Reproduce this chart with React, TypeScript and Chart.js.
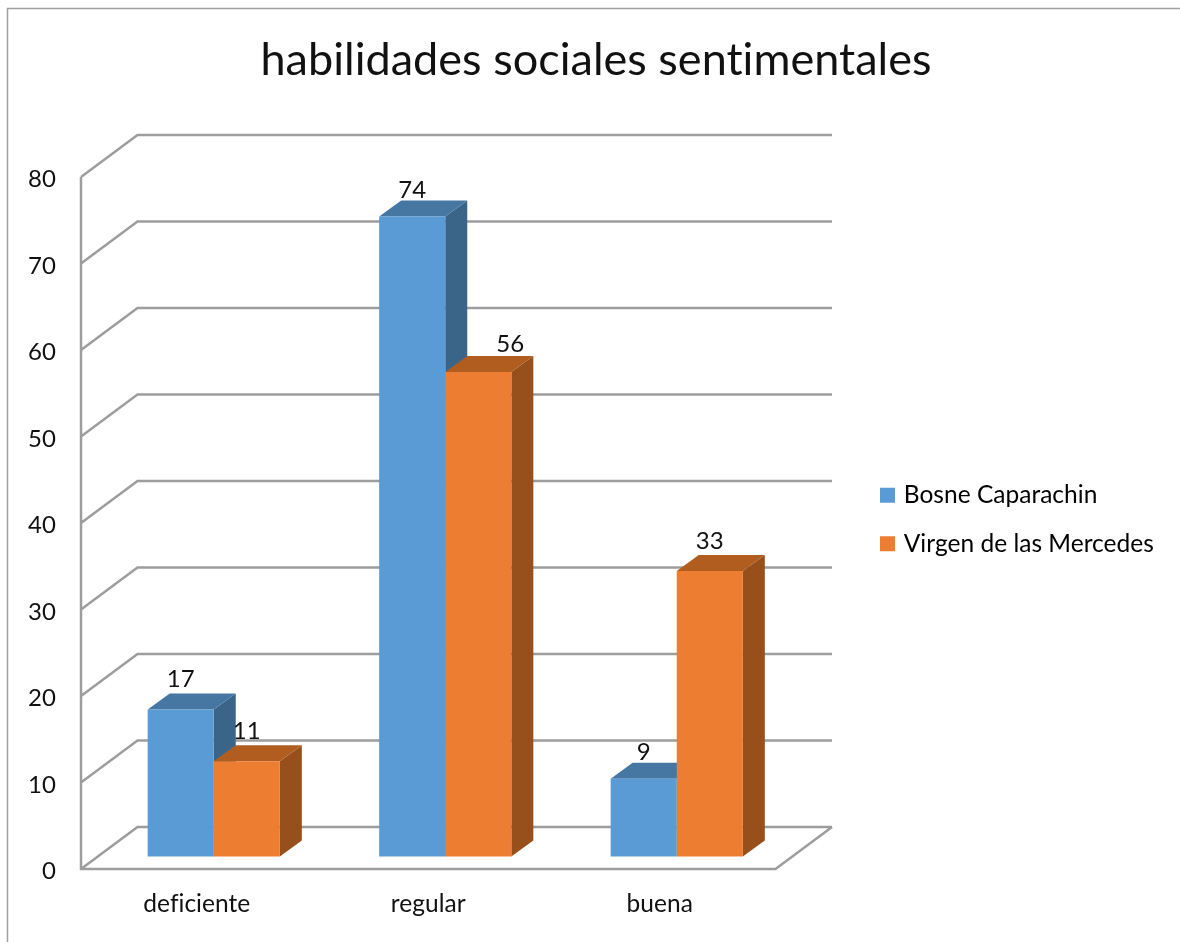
import React, { useEffect, useRef } from "react";
import { Chart, registerables } from "chart.js";

Chart.register(...registerables);

const categories = ["deficiente", "regular", "buena"];
const seriesNames = ["Bosne Caparachin", "Virgen de las Mercedes"];
const bosneValues = [17, 74, 9];
const virgenValues = [11, 56, 33];

const FONT = "Lato";
const FRONT = ["#5b9bd5", "#ed7d31"];
const SIDE = ["#3a6589", "#97501c"];
const TOP = ["#4677a3", "#b25d20"];
const GRID = "#9d9d9d";
const TEXT = "#111111";
const WALL_DX = 56.5;
const WALL_DY = -42;
const BAR_DX = 17;
const BAR_DY = -12.5;
const DEPTH_DX = 22;
const DEPTH_DY = -16;

const depthPlugin = {
  id: "depth3d",
  afterLayout(chart: any) {
    chart.titleBlock.left = 12;
    chart.titleBlock.right = 1180;
    const lg = chart.legend;
    lg.left = 859.5;
    lg.right = 1180;
    lg.top = 459;
  },
  beforeDraw(chart: any) {
    const { ctx, width, height } = chart;
    // A tiny spacing switches off Lato's "fi" and "ti" ligatures.
    ctx.letterSpacing = "0.02px";
    ctx.save();
    ctx.strokeStyle = "#a0a0a0";
    ctx.lineWidth = 1.5;
    ctx.beginPath();
    ctx.moveTo(7.5, height);
    ctx.lineTo(7.5, 8.5);
    ctx.lineTo(width, 8.5);
    ctx.stroke();
    ctx.restore();
  },
  beforeDatasetsDraw(chart: any) {
    const { ctx, chartArea: a, scales } = chart;
    const y = scales.y;
    ctx.save();
    ctx.strokeStyle = GRID;
    ctx.lineWidth = 2.5;
    ctx.lineJoin = "miter";
    ctx.beginPath();
    y.ticks.forEach((t: any) => {
      const py = y.getPixelForValue(t.value);
      ctx.moveTo(a.left, py);
      ctx.lineTo(a.left + WALL_DX, py + WALL_DY);
      ctx.lineTo(a.right + WALL_DX, py + WALL_DY);
    });
    const y0 = y.getPixelForValue(0);
    const yTop = y.getPixelForValue(y.max);
    ctx.moveTo(a.left, yTop);
    ctx.lineTo(a.left, y0);
    ctx.lineTo(a.right, y0);
    ctx.lineTo(a.right + WALL_DX, y0 + WALL_DY);
    ctx.stroke();
    ctx.restore();

    // Series are painted left to right so each front face covers its neighbour's side.
    [0, 1].forEach((i) => {
      const meta = chart.getDatasetMeta(i);
      ctx.save();
      ctx.translate(BAR_DX, BAR_DY);
      meta.data.forEach((el: any) => {
        const l = el.x - el.width / 2;
        const r = el.x + el.width / 2;
        ctx.fillStyle = SIDE[i];
        ctx.beginPath();
        ctx.moveTo(r, el.y);
        ctx.lineTo(r + DEPTH_DX, el.y + DEPTH_DY);
        ctx.lineTo(r + DEPTH_DX, el.base + DEPTH_DY);
        ctx.lineTo(r, el.base);
        ctx.closePath();
        ctx.fill();
        ctx.fillStyle = TOP[i];
        ctx.beginPath();
        ctx.moveTo(l, el.y);
        ctx.lineTo(l + DEPTH_DX, el.y + DEPTH_DY);
        ctx.lineTo(r + DEPTH_DX, el.y + DEPTH_DY);
        ctx.lineTo(r, el.y);
        ctx.closePath();
        ctx.fill();
      });
      meta.controller.draw();
      ctx.restore();
    });
  },
  beforeDatasetDraw() {
    return false;
  },
  afterDatasetsDraw(chart: any) {
    const { ctx } = chart;
    ctx.save();
    ctx.fillStyle = TEXT;
    ctx.font = `24px ${FONT}`;
    ctx.textAlign = "center";
    ctx.textBaseline = "middle";
    [0, 1].forEach((d) => {
      const meta = chart.getDatasetMeta(d);
      meta.data.forEach((el: any, k: number) => {
        const v = chart.data.datasets[d].data[k];
        // some labels sit off the default spot in the reference
        let ox = 0;
        let oy = -30;
        if (d === 0 && k === 1) oy = -26;
        if (d === 0 && k === 2) oy = -26;
        if (d === 1 && k === 1) {
          ox = 32;
          oy = -28;
        }
        ctx.fillText(String(v), el.x + BAR_DX + ox, el.y + BAR_DY + oy);
      });
    });
    ctx.restore();
  },
};

export default function App() {
  const ref = useRef<HTMLCanvasElement | null>(null);
  useEffect(() => {
    if (!ref.current) return;
    const chart = new Chart(ref.current, {
      type: "bar",
      data: {
        labels: categories,
        datasets: [
          { label: seriesNames[0], data: bosneValues, backgroundColor: FRONT[0] },
          { label: seriesNames[1], data: virgenValues, backgroundColor: FRONT[1] },
        ],
      },
      plugins: [depthPlugin],
      options: {
        responsive: false,
        animation: false,
        devicePixelRatio: 1,
        layout: { padding: { left: 0, right: 146, top: 0, bottom: 0 } },
        datasets: { bar: { barPercentage: 1, categoryPercentage: 0.571 } },
        plugins: {
          tooltip: { enabled: false },
          title: {
            display: true,
            text: "habilidades sociales sentimentales",
            color: TEXT,
            font: { family: FONT, size: 45, weight: "normal", lineHeight: 1.2 },
            padding: { top: 33, bottom: 90 },
          },
          legend: {
            display: true,
            position: "right",
            align: "start",
            onClick: () => {},
            labels: {
              color: TEXT,
              font: { family: FONT, size: 24.5 },
              boxWidth: 8,
              boxHeight: 8,
              padding: 24,
              generateLabels: () =>
                seriesNames.map((n, i) => ({
                  text: n,
                  fillStyle: FRONT[i],
                  strokeStyle: FRONT[i],
                  lineWidth: 7,
                  datasetIndex: i,
                })),
            },
          },
        },
        scales: {
          x: {
            grid: { display: false },
            border: { display: false },
            ticks: { color: TEXT, font: { family: FONT, size: 24.5 }, padding: 12, maxRotation: 0 },
            afterFit: (s: any) => {
              s.height = 73;
            },
          },
          y: {
            min: 0,
            max: 80,
            grid: { display: false, drawTicks: false },
            border: { display: false },
            ticks: { stepSize: 10, color: TEXT, font: { family: FONT, size: 24 }, padding: 25, labelOffset: 2.5 },
            afterFit: (s: any) => {
              s.width = 81;
            },
          },
        },
      },
    } as any);
    return () => chart.destroy();
  }, []);
  return (
    <div style={{ position: "absolute", left: 0, top: 0, width: 1180, height: 942, background: "#ffffff" }}>
      <canvas ref={ref} width={1180} height={942} style={{ display: "block" }} />
    </div>
  );
}
